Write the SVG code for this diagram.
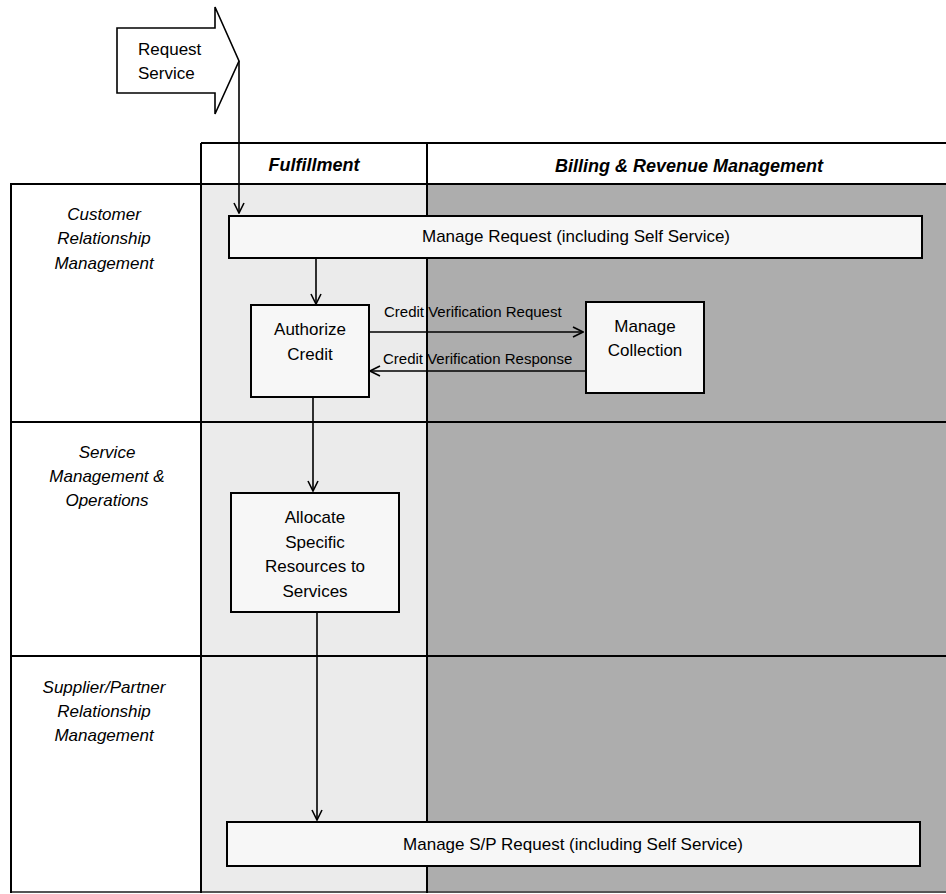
<svg xmlns="http://www.w3.org/2000/svg" width="946" height="894" viewBox="0 0 946 894">
  <style>
    .lbl { font-family: "Liberation Sans", Arial, sans-serif; font-size: 17px; fill: #000; text-anchor: middle; }
    .row { font-family: "Liberation Sans", Arial, sans-serif; font-size: 17px; font-style: italic; fill: #000; text-anchor: middle; }
    .head { font-family: "Liberation Sans", Arial, sans-serif; font-size: 18px; font-style: italic; font-weight: bold; fill: #000; text-anchor: middle; }
    .msg { font-family: "Liberation Sans", Arial, sans-serif; font-size: 15px; fill: #000; }
    .box { fill: #f7f7f7; stroke: #000; stroke-width: 2; }
    .grid { stroke: #000; stroke-width: 2; fill: none; }
    .conn { stroke: #000; stroke-width: 1.6; fill: none; }
  </style>
  <defs>
    <marker id="open" viewBox="0 0 12 12" refX="11" refY="6" markerWidth="12" markerHeight="12" markerUnits="userSpaceOnUse" orient="auto">
      <path d="M1,1 L11,6 L1,11" fill="none" stroke="#000" stroke-width="1.6"/>
    </marker>
  </defs>

  <!-- background -->
  <rect x="0" y="0" width="946" height="894" fill="#fff"/>

  <!-- lanes -->
  <g id="lanes">
    <rect x="201" y="184" width="226" height="709" fill="#ebebeb"/>
    <rect x="427" y="184" width="519" height="709" fill="#adadad"/>
  </g>

  <!-- table grid -->
  <g id="grid">
    <line class="grid" x1="201" y1="143" x2="946" y2="143"/>
    <line class="grid" x1="10" y1="184" x2="946" y2="184"/>
    <line class="grid" x1="10" y1="422" x2="946" y2="422"/>
    <line class="grid" x1="10" y1="656" x2="946" y2="656"/>
    <line x1="10" y1="892" x2="946" y2="892" stroke="#555" stroke-width="2"/>
    <line class="grid" x1="11" y1="184" x2="11" y2="893"/>
    <line class="grid" x1="201" y1="143" x2="201" y2="893"/>
    <line class="grid" x1="427" y1="143" x2="427" y2="893"/>
  </g>

  <!-- column headers -->
  <g id="header-fulfillment">
    <text class="head" x="314" y="171">Fulfillment</text>
  </g>
  <g id="header-billing">
    <text class="head" x="689" y="172">Billing &amp; Revenue Management</text>
  </g>

  <!-- row headers -->
  <g id="row-crm">
    <text class="row" x="104" y="220">Customer</text>
    <text class="row" x="104" y="244">Relationship</text>
    <text class="row" x="104" y="269">Management</text>
  </g>
  <g id="row-smo">
    <text class="row" x="107" y="458">Service</text>
    <text class="row" x="107" y="482">Management &amp;</text>
    <text class="row" x="107" y="506">Operations</text>
  </g>
  <g id="row-sprm">
    <text class="row" x="104" y="693">Supplier/Partner</text>
    <text class="row" x="104" y="717">Relationship</text>
    <text class="row" x="104" y="741">Management</text>
  </g>

  <!-- connectors -->
  <g id="connectors">
    <line class="conn" x1="239" y1="61" x2="239" y2="213" marker-end="url(#open)"/>
    <line class="conn" x1="316" y1="258" x2="316" y2="304" marker-end="url(#open)"/>
    <line class="conn" x1="369" y1="332" x2="583" y2="332" marker-end="url(#open)"/>
    <line class="conn" x1="589" y1="371" x2="370" y2="371" marker-end="url(#open)"/>
    <line class="conn" x1="313" y1="397" x2="313" y2="491" marker-end="url(#open)"/>
    <line class="conn" x1="317" y1="612" x2="317" y2="820" marker-end="url(#open)"/>
    <text class="msg" x="384" y="317">Credit Verification Request</text>
    <text class="msg" x="383" y="364">Credit Verification Response</text>
  </g>

  <!-- Request Service block arrow -->
  <g id="request-service">
    <polygon points="117,28 215,28 215,7 239,61 215,114 215,93 117,93" fill="#fff" stroke="#000" stroke-width="1.6"/>
    <text class="lbl" x="138" y="55" style="text-anchor:start">Request</text>
    <text class="lbl" x="138" y="79" style="text-anchor:start">Service</text>
  </g>

  <g id="manage-request">
    <rect class="box" x="229" y="216" width="693" height="42"/>
    <text class="lbl" x="576" y="242">Manage Request (including Self Service)</text>
  </g>

  <g id="authorize-credit">
    <rect class="box" x="251" y="305" width="118" height="92"/>
    <text class="lbl" x="310" y="335">Authorize</text>
    <text class="lbl" x="310" y="360">Credit</text>
  </g>

  <g id="manage-collection">
    <rect class="box" x="586" y="302" width="118" height="91"/>
    <text class="lbl" x="645" y="332">Manage</text>
    <text class="lbl" x="645" y="356">Collection</text>
  </g>

  <g id="allocate-resources">
    <rect class="box" x="231" y="493" width="168" height="119"/>
    <text class="lbl" x="315" y="523">Allocate</text>
    <text class="lbl" x="315" y="548">Specific</text>
    <text class="lbl" x="315" y="572">Resources to</text>
    <text class="lbl" x="315" y="597">Services</text>
  </g>

  <g id="manage-sp-request">
    <rect class="box" x="227" y="822" width="693" height="44"/>
    <text class="lbl" x="573" y="850">Manage S/P Request (including Self Service)</text>
  </g>
</svg>
